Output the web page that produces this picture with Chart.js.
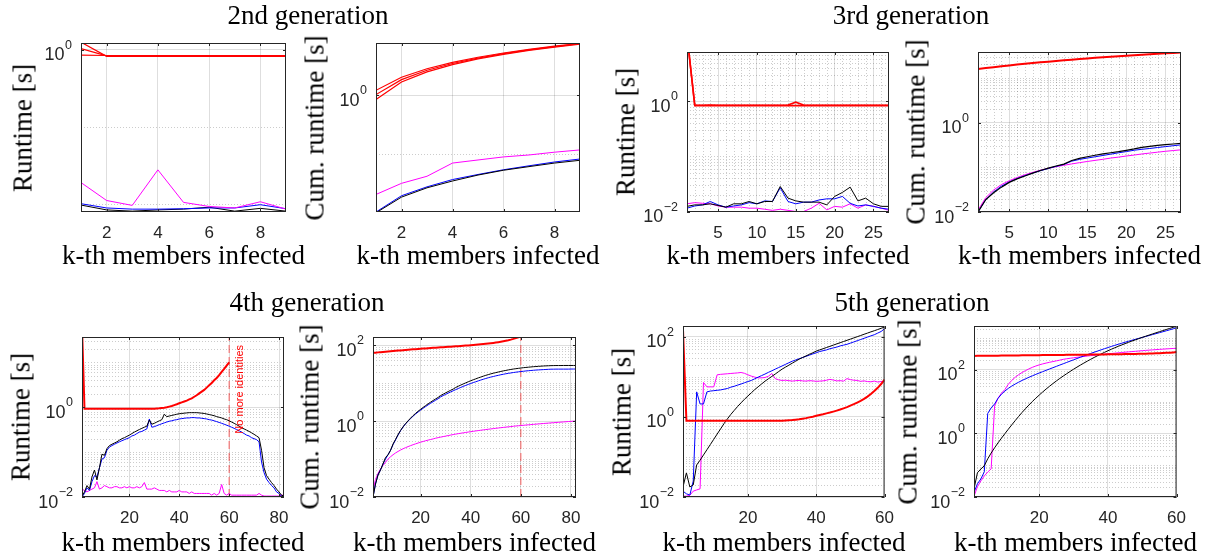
<!DOCTYPE html>
<html>
<head>
<meta charset="utf-8">
<script src="https://cdn.jsdelivr.net/npm/chart.js@4.4.1/dist/chart.umd.min.js"></script>
<style>
  body { margin:0; width:1215px; height:557px; background:#fff; position:relative; overflow:hidden; }
  canvas.panel { position:absolute; }
  .t { position:absolute; font-family:"Liberation Serif", "Times New Roman", serif; font-size:27px; line-height:27px; color:#000; white-space:nowrap; }
  .yl { transform: translate(-50%,-50%) rotate(-90deg); }
  .xl { transform: translate(-50%,-50%); }
</style>
</head>
<body>
<script>
// ---------- data ----------
const gen2K = [1, 2, 3, 4, 5, 6, 7, 8, 9];
const gen3K = [1, 2, 3, 4, 5, 6, 7, 8, 9, 10, 11, 12, 13, 14, 15, 16, 17, 18, 19, 20, 21, 22, 23, 24, 25, 26, 27];
const gen4K = [1, 2, 3, 4, 5, 6, 7, 8, 9, 10, 11, 12, 13, 14, 15, 16, 17, 18, 19, 20,
  21, 22, 23, 24, 25, 26, 27, 28, 29, 30, 31, 32, 33, 34, 35, 36, 37, 38, 39, 40,
  41, 42, 43, 44, 45, 46, 47, 48, 49, 50, 51, 52, 53, 54, 55, 56, 57, 58, 59, 60,
  61, 62, 63, 64, 65, 66, 67, 68, 69, 70, 71, 72, 73, 74, 75, 76, 77, 78, 79, 80, 81, 82];
const gen5K = [1, 2, 3, 4, 5, 6, 7, 8, 9, 10, 11, 12, 13, 14, 15, 16, 17, 18, 19, 20,
  21, 22, 23, 24, 25, 26, 27, 28, 29, 30, 31, 32, 33, 34, 35, 36, 37, 38, 39, 40,
  41, 42, 43, 44, 45, 46, 47, 48, 49, 50, 51, 52, 53, 54, 55, 56, 57, 58, 59, 60];

const gen2XTicks = [2, 4, 6, 8];
const gen3XTicks = [5, 10, 15, 20, 25];
const gen4XTicks = [20, 40, 60, 80];
const gen5XTicks = [20, 40, 60];
const yTicksTop = [1];
const yTicksMid = [0.01, 1];
const yTicksWide = [0.01, 1, 100];
const noMoreIdentitiesK = 60;

// 2nd generation
const gen2RunRedA = [1.25, 0.82, 0.82, 0.82, 0.82, 0.82, 0.82, 0.82, 0.82];
const gen2RunRedB = [1.03, 0.83, 0.83, 0.83, 0.83, 0.83, 0.83, 0.83, 0.83];
const gen2RunRedC = [0.85, 0.84, 0.84, 0.84, 0.84, 0.84, 0.84, 0.84, 0.84];
const gen2RunMag = [0.0188, 0.011, 0.0095, 0.0275, 0.0104, 0.0092, 0.0088, 0.0106, 0.0085];
const gen2RunBlue = [0.0100, 0.0088, 0.0085, 0.0085, 0.0086, 0.0088, 0.0088, 0.0097, 0.0086];
const gen2RunBlack = [0.0096, 0.0083, 0.0080, 0.0083, 0.0085, 0.0090, 0.0080, 0.0087, 0.0080];
const gen2CumRedA = [1.22, 2.04, 2.86, 3.68, 4.50, 5.32, 6.14, 6.96, 7.78];
const gen2CumRedB = [1.03, 1.86, 2.69, 3.52, 4.35, 5.18, 6.01, 6.84, 7.67];
const gen2CumRedC = [0.85, 1.69, 2.53, 3.37, 4.21, 5.05, 5.89, 6.73, 7.57];
const gen2CumMag = [0.020, 0.031, 0.041, 0.069, 0.078, 0.088, 0.095, 0.106, 0.116];
const gen2CumBlue = [0.010, 0.019, 0.027, 0.036, 0.044, 0.053, 0.062, 0.072, 0.081];
const gen2CumBlack = [0.0097, 0.018, 0.026, 0.034, 0.043, 0.052, 0.060, 0.069, 0.077];

// 3rd generation
const gen3RunRedA = [16, 0.85, 0.85, 0.86, 0.85, 0.85, 0.85, 0.85, 0.85, 0.85, 0.85, 0.85, 0.85, 0.86,
  0.97, 0.86, 0.85, 0.85, 0.85, 0.85, 0.85, 0.85, 0.85, 0.85, 0.85, 0.85, 0.85];
const gen3RunRedB = [16, 0.84, 0.84, 0.84, 0.84, 0.84, 0.84, 0.84, 0.84, 0.84, 0.84, 0.84, 0.84, 0.84,
  0.84, 0.84, 0.84, 0.84, 0.84, 0.84, 0.84, 0.84, 0.84, 0.84, 0.84, 0.84, 0.84];
const gen3RunBlack = [0.0124, 0.0132, 0.0132, 0.0138, 0.0129, 0.0120, 0.0138, 0.0138, 0.0152, 0.0138,
  0.0152, 0.0152, 0.0285, 0.0175, 0.0156, 0.0148, 0.0148, 0.0148, 0.0132, 0.0188,
  0.0222, 0.0277, 0.0156, 0.0175, 0.0138, 0.0124, 0.0124];
const gen3RunBlue = [0.0115, 0.0126, 0.0132, 0.0152, 0.0132, 0.0120, 0.0126, 0.0132, 0.0145, 0.0138,
  0.0156, 0.0152, 0.0270, 0.0152, 0.0138, 0.0148, 0.0148, 0.0162, 0.0170, 0.0170,
  0.0188, 0.0141, 0.0126, 0.0132, 0.0124, 0.0115, 0.0110];
const gen3RunMag = [0.0138, 0.0145, 0.0141, 0.0138, 0.0126, 0.0120, 0.0120, 0.0120, 0.0115, 0.0115,
  0.0110, 0.0105, 0.0110, 0.0105, 0.0100, 0.0100, 0.0115, 0.0141, 0.0107, 0.0124,
  0.0120, 0.0138, 0.0115, 0.0132, 0.0124, 0.0115, 0.0105];
const gen3CumRed = [15.8, 16.6, 17.4, 18.2, 19.0, 19.9, 20.7, 21.5, 22.3, 23.1, 24.0, 24.8, 25.6, 26.4,
  27.3, 28.1, 28.9, 29.7, 30.5, 31.4, 32.2, 33.0, 33.8, 34.7, 35.5, 36.3, 37.1];
const gen3CumBlack = [0.010, 0.019, 0.027, 0.036, 0.046, 0.055, 0.064, 0.074, 0.085, 0.096,
  0.107, 0.118, 0.142, 0.158, 0.172, 0.186, 0.199, 0.212, 0.224, 0.240,
  0.258, 0.280, 0.294, 0.309, 0.321, 0.332, 0.344];
const gen3CumBlue = [0.010, 0.019, 0.028, 0.038, 0.047, 0.056, 0.065, 0.074, 0.084, 0.094,
  0.105, 0.116, 0.137, 0.150, 0.161, 0.172, 0.184, 0.197, 0.211, 0.225,
  0.241, 0.253, 0.264, 0.277, 0.290, 0.304, 0.318];
const gen3CumMag = [0.011, 0.021, 0.031, 0.041, 0.050, 0.059, 0.068, 0.077, 0.086, 0.095,
  0.103, 0.111, 0.119, 0.127, 0.135, 0.143, 0.151, 0.161, 0.169, 0.179,
  0.188, 0.199, 0.208, 0.218, 0.228, 0.237, 0.246];

// 4th generation
const gen4RunRed = [63, 0.93, 0.93, 0.93, 0.93, 0.93, 0.93, 0.93, 0.93, 0.93,
  0.93, 0.93, 0.93, 0.93, 0.93, 0.93, 0.93, 0.93, 0.93, 0.93,
  0.93, 0.93, 0.93, 0.93, 0.93, 0.93, 0.93, 0.93, 0.93, 0.93,
  0.94, 0.95, 0.965, 0.98, 1.0, 1.035, 1.07, 1.12, 1.17, 1.23,
  1.29, 1.35, 1.41, 1.5, 1.58, 1.72, 1.86, 2.04, 2.24, 2.45,
  2.75, 3.1, 3.5, 4.0, 4.5, 5.2, 6.2, 7.2, 8.5, 10.0];
const gen4RunBlack = [0.0104, 0.013, 0.018, 0.015, 0.028, 0.04, 0.024, 0.045, 0.09, 0.085,
  0.12, 0.14, 0.15, 0.16, 0.17, 0.185, 0.2, 0.21, 0.225, 0.24,
  0.26, 0.28, 0.3, 0.32, 0.34, 0.36, 0.38, 0.52, 0.42, 0.44,
  0.47, 0.5, 0.53, 0.7, 0.62, 0.64, 0.66, 0.68, 0.7, 0.72,
  0.73, 0.74, 0.75, 0.76, 0.76, 0.76, 0.76, 0.75, 0.74, 0.73,
  0.71, 0.69, 0.67, 0.65, 0.62, 0.6, 0.58, 0.55, 0.53, 0.5,
  0.47, 0.44, 0.41, 0.38, 0.35, 0.33, 0.31, 0.29, 0.27, 0.25,
  0.23, 0.21, 0.11, 0.045, 0.03, 0.025, 0.021, 0.018, 0.015, 0.013,
  0.011, 0.0105];
const gen4RunBlue = [0.01, 0.012, 0.016, 0.014, 0.022, 0.03, 0.028, 0.045, 0.07, 0.075,
  0.11, 0.13, 0.14, 0.15, 0.16, 0.17, 0.18, 0.19, 0.2, 0.21,
  0.23, 0.24, 0.26, 0.28, 0.29, 0.31, 0.33, 0.55, 0.36, 0.37,
  0.39, 0.41, 0.43, 0.45, 0.47, 0.49, 0.5, 0.52, 0.53, 0.55,
  0.56, 0.57, 0.58, 0.58, 0.59, 0.59, 0.58, 0.58, 0.57, 0.56,
  0.55, 0.53, 0.52, 0.5, 0.48, 0.46, 0.44, 0.42, 0.4, 0.38,
  0.36, 0.34, 0.32, 0.3, 0.28, 0.26, 0.24, 0.23, 0.21, 0.2,
  0.19, 0.17, 0.06, 0.035, 0.025, 0.021, 0.018, 0.016, 0.013, 0.012,
  0.0105, 0.01];
const gen4RunMag = [0.015, 0.014, 0.013, 0.014, 0.015, 0.016, 0.022, 0.015, 0.016, 0.018,
  0.017, 0.016, 0.016, 0.017, 0.017, 0.016, 0.016, 0.017, 0.016, 0.017,
  0.016, 0.016, 0.017, 0.016, 0.017, 0.021, 0.015, 0.015, 0.015, 0.016,
  0.015, 0.014, 0.014, 0.014, 0.013, 0.014, 0.013, 0.013, 0.013, 0.014,
  0.013, 0.013, 0.013, 0.012, 0.013, 0.012, 0.012, 0.012, 0.012, 0.012,
  0.012, 0.012, 0.011, 0.012, 0.011, 0.012, 0.019, 0.012, 0.011, 0.012,
  0.011, 0.011, 0.011, 0.011, 0.011, 0.011, 0.011, 0.011, 0.011, 0.011,
  0.011, 0.012, 0.011, 0.0105, 0.0105, 0.0105, 0.0105, 0.0105, 0.0105, 0.0105,
  0.011, 0.011];
const gen4CumRed = [63, 63.9, 64.9, 65.8, 66.7, 67.7, 68.6, 69.5, 70.4, 71.4,
  72.3, 73.2, 74.2, 75.1, 76.0, 77.0, 77.9, 78.8, 79.7, 80.7,
  81.6, 82.5, 83.5, 84.4, 85.3, 86.3, 87.2, 88.1, 89.0, 90.0,
  90.9, 91.9, 92.8, 93.8, 94.8, 95.8, 96.9, 98.0, 99.2, 100.4,
  101.7, 103.1, 104.5, 106.0, 107.6, 109.3, 111.2, 113.2, 115.4, 117.9,
  120.6, 123.7, 127.2, 131.2, 135.7, 140.9, 147.1, 154.3, 162.8, 172.8];
const gen4CumBlack = [0.01, 0.022, 0.038, 0.052, 0.075, 0.11, 0.13, 0.17, 0.25, 0.33,
  0.44, 0.57, 0.71, 0.86, 1.02, 1.2, 1.4, 1.6, 1.82, 2.05,
  2.3, 2.57, 2.86, 3.17, 3.5, 3.85, 4.22, 4.72, 5.13, 5.56,
  6.02, 6.5, 7.0, 7.7, 8.3, 8.9, 9.55, 10.2, 10.9, 11.6,
  12.3, 13.0, 13.8, 14.5, 15.3, 16.1, 16.8, 17.6, 18.3, 19.0,
  19.7, 20.4, 21.1, 21.7, 22.4, 23.0, 23.6, 24.1, 24.6, 25.1,
  25.6, 26.0, 26.4, 26.8, 27.2, 27.5, 27.8, 28.1, 28.4, 28.6,
  28.8, 29.0, 29.1, 29.2, 29.2, 29.2, 29.3, 29.3, 29.3, 29.3,
  29.3, 29.3];
const gen4CumBlue = [0.01, 0.022, 0.038, 0.052, 0.074, 0.10, 0.13, 0.17, 0.24, 0.32,
  0.43, 0.56, 0.70, 0.85, 1.0, 1.17, 1.35, 1.54, 1.74, 1.95,
  2.18, 2.42, 2.68, 2.96, 3.25, 3.56, 3.89, 4.35, 4.71, 5.08,
  5.47, 5.88, 6.31, 6.76, 7.23, 7.72, 8.22, 8.74, 9.27, 9.82,
  10.4, 10.9, 11.5, 12.1, 12.7, 13.3, 13.9, 14.5, 15.0, 15.6,
  16.1, 16.7, 17.2, 17.7, 18.2, 18.6, 19.1, 19.5, 19.9, 20.3,
  20.6, 21.0, 21.3, 21.6, 21.9, 22.2, 22.4, 22.6, 22.8, 23.0,
  23.2, 23.4, 23.4, 23.5, 23.5, 23.5, 23.5, 23.5, 23.5, 23.6,
  23.6, 23.6];
const gen4CumMag = [0.015, 0.029, 0.042, 0.055, 0.068, 0.082, 0.100, 0.115, 0.130, 0.145,
  0.159, 0.173, 0.187, 0.200, 0.213, 0.226, 0.239, 0.252, 0.265, 0.278,
  0.291, 0.304, 0.316, 0.328, 0.340, 0.355, 0.367, 0.379, 0.391, 0.403,
  0.416, 0.429, 0.442, 0.455, 0.467, 0.479, 0.491, 0.503, 0.515, 0.527,
  0.539, 0.551, 0.563, 0.575, 0.587, 0.599, 0.611, 0.623, 0.635, 0.647,
  0.659, 0.671, 0.683, 0.695, 0.707, 0.718, 0.733, 0.744, 0.755, 0.766,
  0.777, 0.788, 0.799, 0.810, 0.821, 0.832, 0.843, 0.854, 0.865, 0.876,
  0.887, 0.898, 0.909, 0.920, 0.931, 0.942, 0.953, 0.964, 0.975, 0.986,
  0.997, 1.008];

// 5th generation
const gen5RunRed = [150, 0.8, 0.8, 0.8, 0.8, 0.8, 0.8, 0.8, 0.8, 0.8,
  0.8, 0.8, 0.8, 0.8, 0.8, 0.8, 0.8, 0.8, 0.8, 0.8,
  0.8, 0.8, 0.8, 0.8, 0.8, 0.8, 0.8, 0.8, 0.8, 0.8,
  0.81, 0.82, 0.83, 0.85, 0.87, 0.9, 0.93, 0.97, 1.01, 1.06,
  1.11, 1.16, 1.22, 1.28, 1.35, 1.43, 1.52, 1.63, 1.75, 1.9,
  2.07, 2.27, 2.5, 2.8, 3.2, 3.7, 4.4, 5.3, 6.6, 8.5];
const gen5RunBlack = [0.0178, 0.040, 0.0178, 0.020, 0.063, 0.083, 0.112, 0.151, 0.204, 0.275,
  0.372, 0.50, 0.676, 0.891, 1.15, 1.45, 1.82, 2.24, 2.75, 3.31,
  3.98, 4.79, 5.62, 6.61, 7.76, 8.91, 10.2, 11.7, 13.5, 15.5,
  17.4, 19.5, 21.9, 24.5, 27.5, 30.2, 33.1, 36.3, 39.8, 43.7,
  46.8, 50.1, 53.7, 57.5, 61.7, 66.1, 70.8, 75.9, 81.3, 87.1,
  93.3, 100, 107, 115, 123, 132, 141, 151, 162, 174];
const gen5RunBlue = [0.014, 0.012, 0.0112, 0.025, 4.2, 2.1, 2.1, 4.2, 4.4, 4.5,
  4.6, 4.7, 4.9, 5.1, 5.5, 5.8, 6.2, 6.6, 7.1, 7.6,
  8.1, 8.9, 9.8, 10.7, 11.7, 12.9, 14.1, 15.5, 17.0, 18.6,
  20.4, 22.4, 24.5, 26.3, 28.2, 30.2, 32.4, 34.7, 37.2, 39.8,
  42.7, 44.7, 46.8, 50.1, 52.5, 55.0, 58.9, 61.7, 64.6, 69.2,
  74.1, 79.4, 85.1, 91.2, 97.7, 105, 112, 123, 135, 158];
const gen5RunMag = [0.0105, 0.0105, 0.011, 0.014, 0.015, 0.016, 7.2, 5.6, 5.6, 5.6,
  11.2, 11.5, 11.7, 11.9, 12.1, 12.3, 12.5, 12.8, 12.2, 11.2,
  10.4, 9.8, 9.4, 9.4, 9.6, 10.3, 12.1, 9.0, 8.4, 8.1,
  8.2, 8.0, 7.8, 8.0, 8.1, 7.9, 7.8, 8.0, 7.9, 7.7,
  7.8, 7.9, 8.2, 8.6, 8.3, 7.9, 8.0, 7.8, 9.0, 8.5,
  8.2, 8.1, 7.7, 7.9, 7.6, 7.5, 7.8, 7.4, 7.6, 7.7];
const gen5CumRed = [275, 275.8, 276.6, 277.4, 278.2, 279.0, 279.8, 280.6, 281.4, 282.2,
  283.0, 283.8, 284.6, 285.4, 286.2, 287.0, 287.8, 288.6, 289.4, 290.2,
  291.0, 291.8, 292.6, 293.4, 294.2, 295.0, 295.8, 296.6, 297.4, 298.2,
  299.0, 299.8, 300.7, 301.5, 302.4, 303.3, 304.2, 305.2, 306.2, 307.3,
  308.4, 309.5, 310.8, 312.0, 313.4, 314.8, 316.3, 318.0, 319.7, 321.6,
  323.7, 326.0, 328.5, 331.3, 334.5, 338.2, 342.6, 347.9, 354.5, 363.0];
const gen5CumBlack = [0.018, 0.058, 0.076, 0.096, 0.159, 0.242, 0.354, 0.505, 0.709, 0.984,
  1.36, 1.86, 2.53, 3.42, 4.57, 6.02, 7.84, 10.1, 12.8, 16.1,
  20.1, 24.9, 30.5, 37.1, 44.9, 53.8, 64.0, 75.7, 89.2, 104.7,
  122.1, 141.6, 163.5, 188.0, 215.5, 245.7, 278.8, 315.1, 354.9, 398.6,
  445.4, 495.5, 549.2, 606.7, 668.4, 734.5, 805.3, 881.2, 962.5, 1050,
  1143, 1243, 1350, 1465, 1588, 1720, 1861, 2012, 2174, 2348];
const gen5CumBlue = [0.014, 0.026, 0.037, 0.062, 4.26, 6.36, 8.46, 12.7, 17.1, 21.6,
  26.2, 30.9, 35.8, 40.9, 46.4, 52.2, 58.4, 65.0, 72.1, 79.7,
  87.8, 96.7, 106.5, 117.2, 128.9, 141.8, 155.9, 171.4, 188.4, 207.0,
  227.4, 249.8, 274.3, 300.6, 328.8, 359.0, 391.4, 426.1, 463.3, 503.1,
  545.8, 590.5, 637.3, 687.4, 739.9, 794.9, 853.8, 915.5, 980.1, 1049,
  1123, 1203, 1288, 1379, 1477, 1582, 1694, 1817, 1952, 2110];
const gen5CumMag = [0.0105, 0.021, 0.032, 0.046, 0.061, 0.077, 7.28, 12.9, 18.5, 24.1,
  35.3, 46.8, 58.5, 70.4, 82.5, 94.8, 107.3, 120.1, 132.3, 143.5,
  153.9, 163.7, 173.1, 182.5, 192.1, 202.4, 214.5, 223.5, 231.9, 240.0,
  248.2, 256.2, 264.0, 272.0, 280.1, 288.0, 295.8, 303.8, 311.7, 319.4,
  327.2, 335.1, 343.3, 351.9, 360.2, 368.1, 376.1, 383.9, 392.9, 401.4,
  409.6, 417.7, 425.4, 433.3, 440.9, 448.4, 456.2, 463.6, 471.2, 478.9];

// ---------- styling ----------
const RED = '#ff0000', MAG = '#ff00ff', BLUE = '#0000ff', BLACK = '#000000';
const AXIS_COL = '#262626';
const SANS = "'Liberation Sans', Arial, sans-serif";
const TICK_FONT = { family: SANS, size: 17 };

// minor dotted grid, box, tick marks, 10^n labels and the annotation text
const matlabAxes = {
  id: 'matlabAxes',
  beforeDatasetsDraw(chart, args, o) {
    const { ctx, chartArea: a, scales: { x, y } } = chart;
    ctx.save();
    ctx.strokeStyle = 'rgba(0,0,0,0.2)';
    ctx.lineWidth = 1;
    ctx.setLineDash([1, 2]);
    const lo = Math.floor(Math.log10(y.min)), hi = Math.ceil(Math.log10(y.max));
    const mults = o.minorY === 'decades' ? [1] : [1, 2, 3, 4, 5, 6, 7, 8, 9];
    for (let e = lo; e <= hi; e++) {
      for (const m of mults) {
        const v = m * Math.pow(10, e);
        if (v <= y.min * 1.0001 || v >= y.max) continue;
        if (o.yTicks.some(t => Math.abs(t - v) / v < 1e-6)) continue;
        const py = Math.round(y.getPixelForValue(v)) + 0.5;
        ctx.beginPath(); ctx.moveTo(a.left, py); ctx.lineTo(a.right, py); ctx.stroke();
      }
    }
    if (o.minorX) {
      for (let k = Math.ceil(x.min); k < x.max; k += o.minorX) {
        if (k <= x.min || o.xTicks.includes(k)) continue;
        const px = Math.round(x.getPixelForValue(k)) + 0.5;
        ctx.beginPath(); ctx.moveTo(px, a.top); ctx.lineTo(px, a.bottom); ctx.stroke();
      }
    }
    ctx.restore();
  },
  afterDatasetsDraw(chart, args, o) {
    if (!o.note) return;
    const { ctx, chartArea: a, scales: { x } } = chart;
    ctx.save();
    ctx.translate(x.getPixelForValue(o.note.k) + 11, a.top + 8);
    ctx.rotate(-Math.PI / 2);
    ctx.fillStyle = RED;
    ctx.font = '11px ' + SANS;
    ctx.textAlign = 'right';
    ctx.textBaseline = 'middle';
    ctx.fillText(o.note.text, 0, 0);
    ctx.restore();
  },
  afterDraw(chart, args, o) {
    const { ctx, chartArea: a, scales: { x, y } } = chart;
    ctx.save();
    ctx.strokeStyle = AXIS_COL;
    ctx.lineWidth = 1;
    ctx.beginPath();
    for (const t of o.xTicks) {
      const px = Math.round(x.getPixelForValue(t)) + 0.5;
      ctx.moveTo(px, a.bottom); ctx.lineTo(px, a.bottom - 3);
      ctx.moveTo(px, a.top); ctx.lineTo(px, a.top + 3);
    }
    for (const t of o.yTicks) {
      const py = Math.round(y.getPixelForValue(t)) + 0.5;
      ctx.moveTo(a.left, py); ctx.lineTo(a.left + 3, py);
      ctx.moveTo(a.right, py); ctx.lineTo(a.right - 3, py);
    }
    ctx.stroke();
    ctx.strokeRect(a.left + 0.5, a.top + 0.5, a.right - a.left - 1, a.bottom - a.top - 1);

    // y tick labels as 10 with a raised exponent
    ctx.fillStyle = AXIS_COL;
    ctx.textAlign = 'right';
    ctx.textBaseline = 'alphabetic';
    for (const t of o.yTicks) {
      const py = y.getPixelForValue(t);
      const exp = String(Math.round(Math.log10(t))).replace('-', '\u2212');
      const right = a.left - 9;
      ctx.font = '12.5px ' + SANS;
      const ew = ctx.measureText(exp).width;
      ctx.fillText(exp, right, py - 1);
      ctx.font = '18px ' + SANS;
      ctx.fillText('10', right - ew - 0.5, py + 10.5);
    }
    ctx.restore();
  }
};

function line(xs, vals, color, width) {
  return {
    data: xs.map((k, i) => ({ x: k, y: vals[i] === undefined ? null : vals[i] })),
    borderColor: color, borderWidth: width, pointRadius: 0, tension: 0,
    fill: false, spanGaps: false, clip: 0
  };
}

const PAD_L = 80, PAD_T = 15, PAD_R = 20, PAD_B = 45;

function makePanel(p) {
  const [L, T, R, B] = p.rect;
  const cv = document.createElement('canvas');
  cv.className = 'panel';
  cv.width = R - L + PAD_L + PAD_R;
  cv.height = B - T + PAD_T + PAD_B;
  cv.style.left = (L - PAD_L) + 'px';
  cv.style.top = (T - PAD_T) + 'px';
  document.body.appendChild(cv);

  const datasets = p.series.map(s => line(p.xs, s[0], s[1], s[2]));
  if (p.markerK) {
    const m = line([p.markerK, p.markerK], [p.yMin, p.yMax], 'rgba(255,0,0,0.6)', 1);
    m.borderDash = [8, 4];
    datasets.push(m);
  }

  new Chart(cv, {
    type: 'line',
    data: { datasets },
    options: {
      responsive: false, animation: false, devicePixelRatio: 1, events: [],
      layout: { padding: { top: PAD_T, right: PAD_R, left: 0, bottom: 0 } },
      plugins: {
        legend: { display: false }, tooltip: { enabled: false },
        matlabAxes: { yTicks: p.yTicks, xTicks: p.xTicks, minorY: p.minorY, minorX: p.minorX, note: p.note }
      },
      scales: {
        x: {
          type: 'linear', min: p.xMin, max: p.xMax, bounds: 'data',
          afterBuildTicks: s => { s.ticks = p.xTicks.map(v => ({ value: v })); },
          afterFit: s => { s.height = PAD_B; },
          grid: { color: 'rgba(0,0,0,0.13)', lineWidth: 1, drawTicks: false },
          border: { display: false },
          ticks: { font: TICK_FONT, color: AXIS_COL, padding: 11, autoSkip: false, maxRotation: 0,
                   callback: v => String(v) }
        },
        y: {
          type: 'logarithmic', min: p.yMin, max: p.yMax, bounds: 'data',
          afterBuildTicks: s => { s.ticks = p.yTicks.map(v => ({ value: v })); },
          afterFit: s => { s.width = PAD_L; },
          grid: { color: 'rgba(0,0,0,0.13)', lineWidth: 1, drawTicks: false },
          border: { display: false },
          ticks: { display: false }
        }
      }
    },
    plugins: [matlabAxes]
  });

  addText(p.yTitle, p.yTitleX, (T + B) / 2, 'yl');
  addText('k-th members infected', (L + R) / 2, p.xTitleY, 'xl');
}

function addText(txt, cx, cy, cls) {
  const d = document.createElement('div');
  d.className = 't ' + cls;
  d.textContent = txt;
  d.style.left = cx + 'px';
  d.style.top = cy + 'px';
  document.body.appendChild(d);
}

const panels = [
  { rect: [81, 43, 286, 212], xs: gen2K, xMin: 1, xMax: 9, xTicks: gen2XTicks,
    yMin: 0.0078, yMax: 1.22, yTicks: yTicksTop, minorY: 'decades', minorX: 0,
    yTitle: 'Runtime [s]', yTitleX: 23, xTitleY: 255,
    series: [[gen2RunRedA, RED, 1.2], [gen2RunRedB, RED, 1.2], [gen2RunRedC, RED, 1.2],
             [gen2RunMag, MAG, 1], [gen2RunBlue, BLUE, 1], [gen2RunBlack, BLACK, 1]] },
  { rect: [376, 43, 580, 212], xs: gen2K, xMin: 1, xMax: 9, xTicks: gen2XTicks,
    yMin: 0.01, yMax: 7.9, yTicks: yTicksTop, minorY: 'decades', minorX: 0,
    yTitle: 'Cum. runtime [s]', yTitleX: 315, xTitleY: 255,
    series: [[gen2CumRedA, RED, 1.2], [gen2CumRedB, RED, 1.2], [gen2CumRedC, RED, 1.2],
             [gen2CumMag, MAG, 1], [gen2CumBlack, BLACK, 1], [gen2CumBlue, BLUE, 1]] },
  { rect: [687, 52, 889, 212], xs: gen3K, xMin: 1, xMax: 27, xTicks: gen3XTicks,
    yMin: 0.0098, yMax: 7.9, yTicks: yTicksMid, minorY: 'all', minorX: 1,
    yTitle: 'Runtime [s]', yTitleX: 626, xTitleY: 255,
    series: [[gen3RunRedA, RED, 1.6], [gen3RunRedB, RED, 1.6], [gen3RunBlack, BLACK, 1],
             [gen3RunBlue, BLUE, 1], [gen3RunMag, MAG, 1]] },
  { rect: [978, 52, 1181, 212], xs: gen3K, xMin: 1, xMax: 27, xTicks: gen3XTicks,
    yMin: 0.01, yMax: 38, yTicks: yTicksMid, minorY: 'all', minorX: 1,
    yTitle: 'Cum. runtime [s]', yTitleX: 916, xTitleY: 255,
    series: [[gen3CumRed, RED, 2], [gen3CumBlack, BLACK, 1.2], [gen3CumBlue, BLUE, 1],
             [gen3CumMag, MAG, 1]] },
  { rect: [82, 337, 284, 497], xs: gen4K, xMin: 1, xMax: 82, xTicks: gen4XTicks,
    yMin: 0.01, yMax: 37, yTicks: yTicksMid, minorY: 'all', minorX: 0,
    yTitle: 'Runtime [s]', yTitleX: 21, xTitleY: 542, markerK: noMoreIdentitiesK,
    note: { k: noMoreIdentitiesK, text: 'No more identities' },
    series: [[gen4RunRed, RED, 2], [gen4RunBlack, BLACK, 1], [gen4RunBlue, BLUE, 1],
             [gen4RunMag, MAG, 1]] },
  { rect: [373, 337, 576, 497], xs: gen4K, xMin: 1, xMax: 82, xTicks: gen4XTicks,
    yMin: 0.01, yMax: 165, yTicks: yTicksWide, minorY: 'all', minorX: 0,
    yTitle: 'Cum. runtime [s]', yTitleX: 310, xTitleY: 542, markerK: noMoreIdentitiesK,
    series: [[gen4CumRed, RED, 2], [gen4CumBlack, BLACK, 1], [gen4CumBlue, BLUE, 1],
             [gen4CumMag, MAG, 1]] },
  { rect: [683, 326, 885, 497], xs: gen5K, xMin: 1, xMax: 60, xTicks: gen5XTicks,
    yMin: 0.01, yMax: 185, yTicks: yTicksWide, minorY: 'all', minorX: 0,
    yTitle: 'Runtime [s]', yTitleX: 622, xTitleY: 542,
    series: [[gen5RunRed, RED, 2], [gen5RunBlack, BLACK, 1], [gen5RunBlue, BLUE, 1],
             [gen5RunMag, MAG, 1]] },
  { rect: [974, 326, 1177, 497], xs: gen5K, xMin: 1, xMax: 60, xTicks: gen5XTicks,
    yMin: 0.01, yMax: 2400, yTicks: yTicksWide, minorY: 'all', minorX: 0,
    yTitle: 'Cum. runtime [s]', yTitleX: 908, xTitleY: 542,
    series: [[gen5CumRed, RED, 2], [gen5CumBlack, BLACK, 1], [gen5CumBlue, BLUE, 1],
             [gen5CumMag, MAG, 1]] }
];

panels.forEach(makePanel);

addText('2nd generation', 308, 15, 'xl');
addText('3rd generation', 911, 15, 'xl');
addText('4th generation', 307, 302, 'xl');
addText('5th generation', 912, 302, 'xl');
</script>
</body>
</html>
